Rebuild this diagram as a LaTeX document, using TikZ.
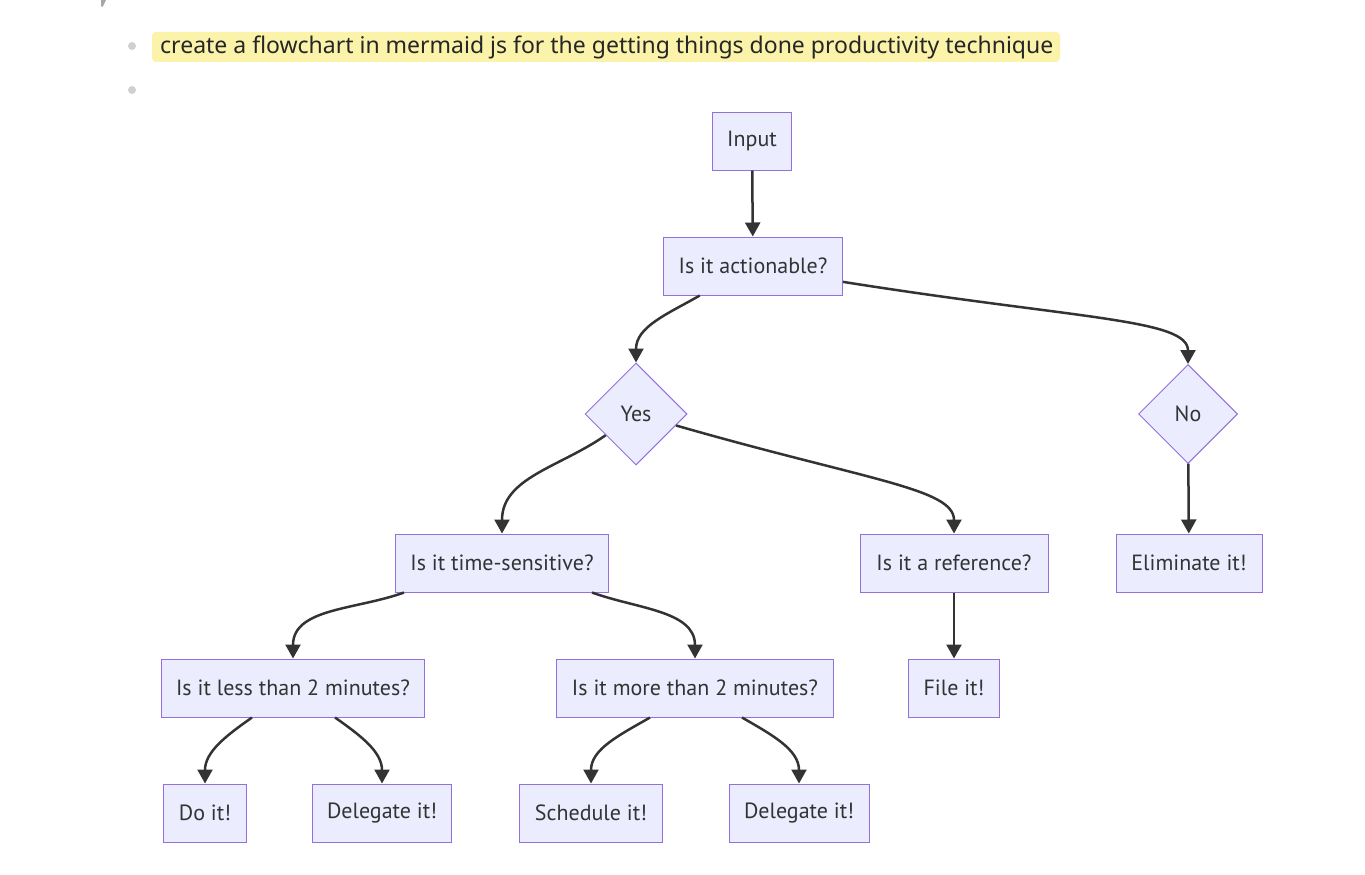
\documentclass[tikz,border=0pt]{standalone}
\usepackage{fontspec}
\newfontfamily\boxfont{PT Sans}
\newfontfamily\notefont{Noto Sans}
\usetikzlibrary{arrows.meta,shapes.geometric}
\definecolor{mmfill}{HTML}{ECECFF}
\definecolor{mmline}{HTML}{9370DB}
\definecolor{mmtext}{HTML}{333333}
\definecolor{hilite}{HTML}{FBF3A9}
\definecolor{dotgray}{HTML}{CFCFCF}

\begin{document}
\begin{tikzpicture}[x=1pt,y=1pt,
    every node/.style={font=\boxfont\fontsize{22}{26}\selectfont,text=mmtext},
    box/.style={rectangle,draw=mmline,fill=mmfill,line width=1pt,minimum height=58pt,inner xsep=15pt},
    choice/.style={diamond,draw=mmline,fill=mmfill,line width=1pt,minimum size=102pt,inner sep=0pt},
    flow/.style={draw=mmtext,line width=2.5pt,-{Triangle[length=14pt,width=15pt]}}]
    \useasboundingbox (0,0) rectangle (1365,-875);
    % note line above the chart
    \fill[gray!70] (101,0) -- (106,0) -- (102.5,-7) -- (101,-6) -- cycle;
    \fill[dotgray] (132,-46) circle (4) (132,-90) circle (4);
    \fill[hilite,rounded corners=4pt] (152,-32) rectangle (1060,-62);
    \node[anchor=base west,inner sep=0pt,text=black!85,font=\notefont\fontsize{23}{27}\selectfont] (note) at (160,-54) {create a flowchart in mermaid js for the getting things done productivity technique};
    % chart
    \node[box,minimum width=77pt] (input) at (752,-141) {Input};
    \node[box,minimum width=178pt] (act) at (753,-266) {Is it actionable?};
    \node[choice] (yes) at (636,-414) {Yes};
    \node[choice,minimum size=99pt] (no) at (1188,-414) {No};
    \node[box,minimum width=213pt] (time) at (502,-563) {Is it time-sensitive?};
    \node[box,minimum width=188pt] (ref) at (954,-563) {Is it a reference?};
    \node[box,minimum width=146pt] (elim) at (1189,-563) {Eliminate it!};
    \node[box,minimum width=263pt] (less) at (293,-688) {Is it less than 2 minutes?};
    \node[box,minimum width=276pt] (more) at (695,-688) {Is it more than 2 minutes?};
    \node[box,minimum width=90pt] (file) at (954,-688) {File it!};
    \node[box,minimum width=80pt] (do) at (205,-813) {Do it!};
    \node[box,minimum width=139pt] (del1) at (382,-813) {Delegate it!};
    \node[box,minimum width=142pt] (sched) at (591,-813) {Schedule it!};
    \node[box,minimum width=140pt] (del2) at (799,-813) {Delegate it!};
    \path[every edge/.append style={flow}]
        (input) edge (act)
        (act.-151) edge [out=-150,in=90] (yes.north)
        (act.-10) edge [out=-9,in=90,out distance=240pt,in distance=45pt] (no.north)
        (yes.-145) edge [out=-145,in=90] (time.north)
        (yes.-16) edge [out=-16,in=90,out distance=200pt,in distance=45pt] (ref.north)
        (no) edge (elim)
        ([xshift=-98pt]time.south) edge [out=-160,in=90] (less.north)
        ([xshift=90pt]time.south) edge [out=-20,in=90] (more.north)
        (ref) edge (file)
        ([xshift=-41pt]less.south) edge [out=-145,in=90] (do.north)
        ([xshift=42pt]less.south) edge [out=-35,in=90] (del1.north)
        ([xshift=-45pt]more.south) edge [out=-150,in=90] (sched.north)
        ([xshift=47pt]more.south) edge [out=-30,in=90] (del2.north)
    ;
\end{tikzpicture}
\end{document}
